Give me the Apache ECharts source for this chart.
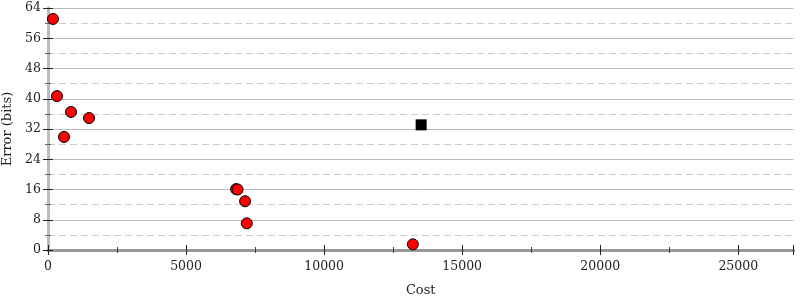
<!DOCTYPE html>
<html><head><meta charset="utf-8">
<script src="https://cdn.jsdelivr.net/npm/echarts@6/dist/echarts.min.js"></script>
<style>html,body{margin:0;padding:0;background:#fff}#c{width:800px;height:300px}</style>
</head><body><div id="c"></div>
<script>
const redCost = [181, 326, 833, 1486, 580, 6812, 6866, 7138, 7199, 13214];
const redError = [61.1, 40.7, 36.5, 34.9, 29.9, 16.1, 16.0, 12.9, 7.05, 1.5];
const blackCost = [13514];
const blackError = [33.1];
const xMax = 27000, yMax = 64;
const xLabels = [0, 5000, 10000, 15000, 20000, 25000];
const yLabels = [0, 8, 16, 24, 32, 40, 48, 56, 64];

const font = 'DejaVu Serif';
const gridRect = {left: 48, top: 8, width: 745.5, height: 242, containLabel: false, outerBoundsMode: 'none'};
const chart = echarts.init(document.getElementById('c'), null, {renderer: 'canvas'});
const xBase = {type: 'value', min: 0, max: xMax, interval: 5000};
const yBase = {type: 'value', min: 0, max: yMax, interval: 8};
chart.setOption({
  animation: false,
  grid: [Object.assign({}, gridRect), Object.assign({}, gridRect)],
  xAxis: [
    Object.assign({}, xBase, {gridIndex: 0, position: 'bottom',
      name: 'Cost', nameLocation: 'middle', nameGap: 34,
      nameTextStyle: {fontFamily: font, fontSize: 13, color: '#222'},
      axisLine: {lineStyle: {color: '#999', width: 3}},
      axisTick: {show: true, length: 5, inside: false, lineStyle: {color: '#222', width: 1}},
      minorTick: {show: true, splitNumber: 2, length: 3, lineStyle: {color: '#444'}},
      axisLabel: {fontFamily: font, fontSize: 12.5, color: '#222', margin: 10, showMaxLabel: false,
        formatter: v => xLabels.includes(v) ? String(v) : ''},
      splitLine: {show: false}}),
    Object.assign({}, xBase, {gridIndex: 0, position: 'top',
      axisLine: {lineStyle: {color: '#999', width: 3}},
      axisTick: {show: false}, axisLabel: {show: false}, splitLine: {show: false}}),
    Object.assign({}, xBase, {gridIndex: 1, position: 'bottom',
      axisLine: {show: false},
      axisTick: {show: true, length: 5, inside: true, lineStyle: {color: '#222', width: 1}},
      minorTick: {show: true, splitNumber: 2, length: 3, lineStyle: {color: '#444'}},
      axisLabel: {show: false}, splitLine: {show: false}})
  ],
  yAxis: [
    Object.assign({}, yBase, {gridIndex: 0, position: 'left',
      name: 'Error (bits)', nameLocation: 'middle', nameGap: 29, nameRotate: 90,
      nameTextStyle: {fontFamily: font, fontSize: 13, color: '#222'},
      axisLine: {show: true, lineStyle: {color: '#bbb', width: 3}},
      axisTick: {show: true, length: 5, inside: false, lineStyle: {color: '#222', width: 1}},
      minorTick: {show: true, splitNumber: 2, length: 3, lineStyle: {color: '#666'}},
      axisLabel: {fontFamily: font, fontSize: 12.5, color: '#222', margin: 7,
        formatter: v => yLabels.includes(v) ? String(v) : ''},
      splitLine: {show: true, lineStyle: {color: '#bbb', width: 1}},
      minorSplitLine: {show: true, lineStyle: {color: '#ccc', width: 1, type: [7, 4]}}}),
    Object.assign({}, yBase, {gridIndex: 0, position: 'right',
      axisLine: {show: true, lineStyle: {color: '#bbb', width: 3}},
      axisTick: {show: true, length: 5, inside: true, lineStyle: {color: '#222', width: 1}},
      minorTick: {show: true, splitNumber: 2, length: 3, lineStyle: {color: '#666'}},
      axisLabel: {show: false}, splitLine: {show: false}}),
    Object.assign({}, yBase, {gridIndex: 1, position: 'left',
      axisLine: {show: false},
      axisTick: {show: true, length: 5, inside: true, lineStyle: {color: '#222', width: 1}},
      minorTick: {show: true, splitNumber: 2, length: 3, lineStyle: {color: '#666'}},
      axisLabel: {show: false}, splitLine: {show: false}})
  ],
  series: [
    {type: 'scatter', xAxisIndex: 0, yAxisIndex: 0, symbol: 'circle', symbolSize: 11,
      itemStyle: {color: '#f00', borderColor: '#000', borderWidth: 1, opacity: 1},
      data: redCost.map((c, i) => [c, redError[i]]), z: 5},
    {type: 'scatter', xAxisIndex: 0, yAxisIndex: 0, symbol: 'rect', symbolSize: 11,
      itemStyle: {color: '#000', opacity: 1},
      data: blackCost.map((c, i) => [c, blackError[i]]), z: 5}
  ]
});
</script></body></html>
